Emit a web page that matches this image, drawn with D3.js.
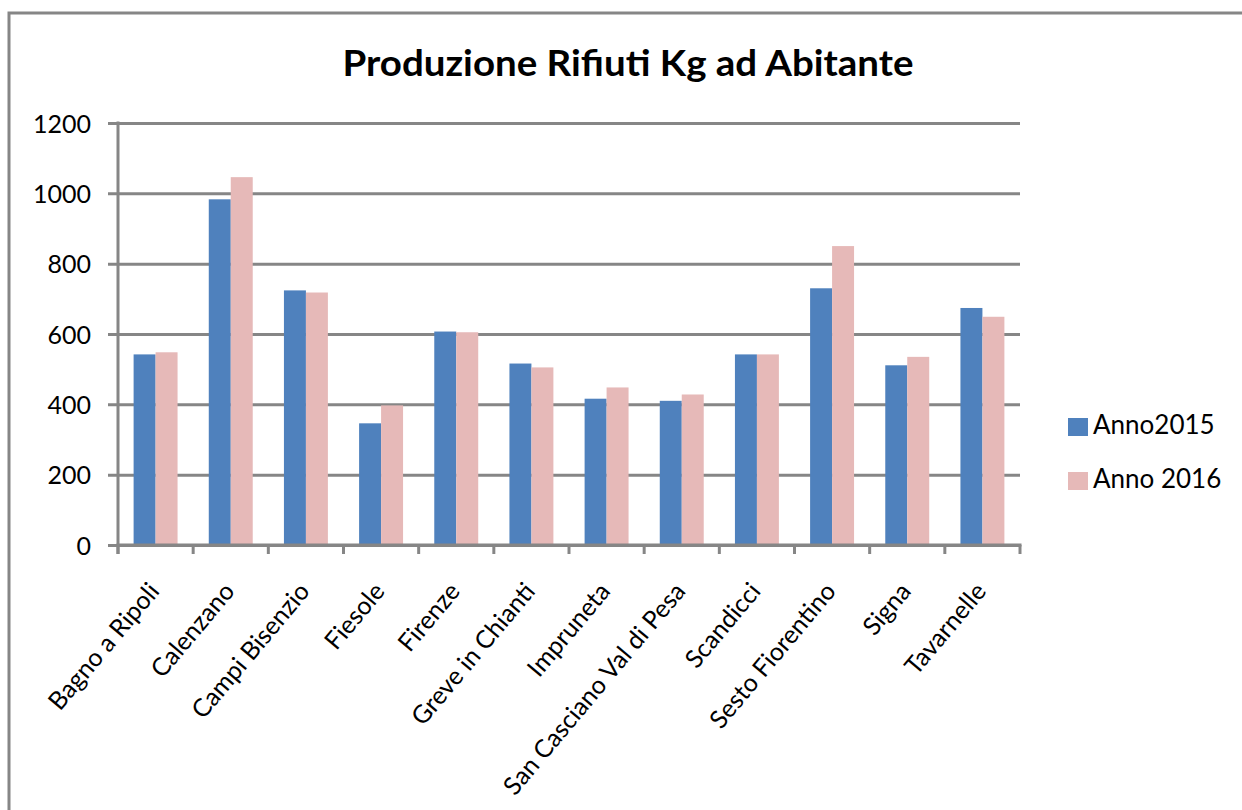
<!DOCTYPE html>
<html>
<head>
<meta charset="utf-8">
<script src="https://cdn.jsdelivr.net/npm/d3@7"></script>
<style>
  body { margin: 0; background: #fff; }
  text { font-family: Lato, "Open Sans", sans-serif; fill: #000; }
</style>
</head>
<body>
<div id="chart-area"></div>
<script>
// data
const comuni = ["Bagno a Ripoli", "Calenzano", "Campi Bisenzio", "Fiesole", "Firenze",
    "Greve in Chianti", "Impruneta", "San Casciano Val di Pesa", "Scandicci",
    "Sesto Fiorentino", "Signa", "Tavarnelle"];
const anno2015 = [542, 983, 724, 346, 607, 516, 416, 410, 542, 730, 511, 674];
const anno2016 = [548, 1046, 718, 397, 605, 505, 448, 428, 542, 850, 535, 649];
const seriesNames = ["Anno2015", "Anno 2016"];
const yTicks = [0, 200, 400, 600, 800, 1000, 1200];

const W = 1242, H = 810;
const plot = { left: 118, right: 1020, top: 123, bottom: 545 };
const colors = ["#4f81bd", "#e6b9b8"];
const grey = "#868686";

const svg = d3.select("#chart-area").append("svg")
    .attr("width", W).attr("height", H);

// outer frame (right and bottom edges fall outside the picture)
svg.append("rect")
    .attr("x", 9).attr("y", 13)
    .attr("width", 1300).attr("height", 900)
    .attr("fill", "none").attr("stroke", grey).attr("stroke-width", 3);

// title
svg.append("text")
    .attr("x", 628).attr("y", 76)
    .attr("text-anchor", "middle")
    .attr("font-size", "37px").attr("font-weight", "bold")
    .attr("textLength", 571).attr("lengthAdjust", "spacingAndGlyphs")
    .text("Produzione Rifiuti Kg ad Abitante");

const y = d3.scaleLinear().domain([0, 1200]).range([plot.bottom, plot.top]);
const x0 = d3.scaleBand().domain(comuni).range([plot.left, plot.right]);
const x1 = d3.scaleBand().domain(seriesNames)
    .range([0, x0.bandwidth()]).paddingInner(0).paddingOuter(0.71);

// gridlines + y labels
const yAxis = d3.axisLeft(y).tickValues(yTicks).tickFormat(d3.format("d"))
    .tickSize(-(plot.right - 108)).tickPadding(17);
const gy = svg.append("g").attr("transform", "translate(108,0)").call(yAxis);
gy.select(".domain").remove();
gy.selectAll("line").attr("stroke", grey).attr("stroke-width", 3);
gy.selectAll("text").attr("font-size", "25px").attr("font-family", "Lato")
    .attr("fill", "#000").attr("dy", "0.36em");

// y axis line
svg.append("line")
    .attr("x1", plot.left).attr("x2", plot.left)
    .attr("y1", plot.top - 1.5).attr("y2", plot.bottom + 9)
    .attr("stroke", grey).attr("stroke-width", 3);

// bars
const rows = comuni.map((c, i) => ({ name: c, vals: [anno2015[i], anno2016[i]] }));
const groups = svg.append("g").selectAll("g").data(rows).enter().append("g")
    .attr("transform", d => "translate(" + x0(d.name) + ",0)");
groups.selectAll("rect")
    .data(d => d.vals.map((v, k) => ({ key: seriesNames[k], v: v, k: k })))
    .enter().append("rect")
    .attr("x", d => x1(d.key))
    .attr("width", x1.bandwidth())
    .attr("y", d => y(d.v))
    .attr("height", d => y(0) - y(d.v))
    .attr("fill", d => colors[d.k]);

// x axis line and ticks at category edges
svg.append("line")
    .attr("x1", plot.left - 1.5).attr("x2", plot.right + 1.5)
    .attr("y1", plot.bottom).attr("y2", plot.bottom)
    .attr("stroke", grey).attr("stroke-width", 3);
const edges = comuni.map(c => x0(c)).concat([plot.right]);
svg.append("g").selectAll("line").data(edges).enter().append("line")
    .attr("x1", d => d).attr("x2", d => d)
    .attr("y1", plot.bottom).attr("y2", plot.bottom + 9)
    .attr("stroke", grey).attr("stroke-width", 3);

// category labels, rotated
const xAxis = d3.axisBottom(x0).tickSize(0);
const gx = svg.append("g").attr("transform", "translate(0," + plot.bottom + ")").call(xAxis);
gx.select(".domain").remove();
gx.selectAll("text")
    .attr("x", 0).attr("y", 0).attr("dy", 0)
    .attr("font-size", "25px").attr("font-family", "Lato").attr("fill", "#000")
    .attr("text-anchor", "end")
    .attr("transform", "translate(5,47) rotate(-50)");

// legend
const legend = svg.append("g").selectAll("g").data(seriesNames).enter().append("g")
    .attr("transform", (d, i) => "translate(1068," + (418 + i * 54) + ")");
legend.append("rect").attr("width", 20).attr("height", 18)
    .attr("fill", (d, i) => colors[i]);
legend.append("text").attr("x", 25).attr("y", 16)
    .attr("font-size", "26px").text(d => d);
</script>
</body>
</html>
